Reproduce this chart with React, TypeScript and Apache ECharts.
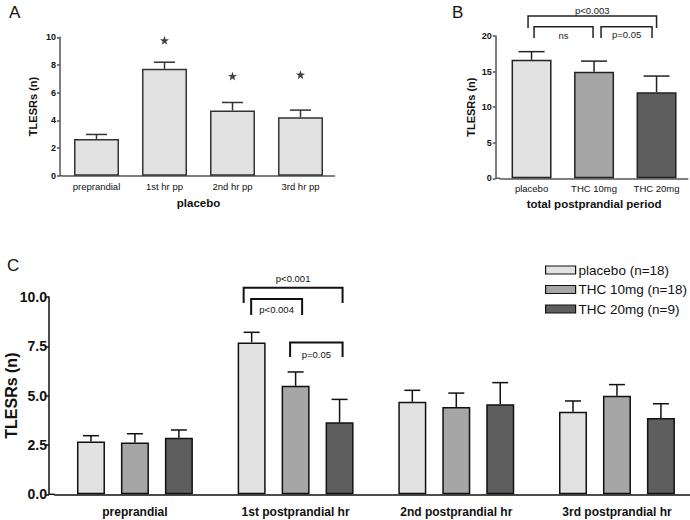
import React, { useEffect, useRef } from 'react';
import * as echarts from 'echarts';

const FONT = '"Liberation Sans", Arial, Helvetica, sans-serif';

// ---------- Panel A (placebo) ----------
const A_CATS = ['preprandial', '1st hr pp', '2nd hr pp', '3rd hr pp'];
const A_MEAN = [2.66, 7.73, 4.71, 4.23];
const A_UPPER = [2.98, 8.2, 5.29, 4.74];
const A_STARS = [[1, 9.78], [2, 7.2], [3, 7.3]];

// ---------- Panel B (total postprandial period) ----------
const B_CATS = ['placebo', 'THC 10mg', 'THC 20mg'];
const B_MEAN = [16.66, 14.98, 12.08];
const B_UPPER = [17.8, 16.47, 14.37];
const B_BRACKET_LABELS = ['p<0.003', 'ns', 'p=0.05'];
const B_BRACKET_FROM = [0, 0, 1];
const B_BRACKET_TO = [2, 1, 2];
const B_BRACKET_TOP = [22.81, 21.31, 21.31];
const B_BRACKET_FOOT = [21.12, 19.72, 19.72];
const B_BRACKET_TEXT_Y = [23.64, 20.1, 20.2];

// ---------- Panel C (per hour, three groups) ----------
const C_CATS = ['preprandial', '1st postprandial hr', '2nd postprandial hr', '3rd postprandial hr'];
const C_GROUPS = ['placebo (n=18)', 'THC 10mg (n=18)', 'THC 20mg (n=9)'];
const C_PLACEBO = [2.67, 7.7, 4.69, 4.19];
const C_PLACEBO_UP = [2.97, 8.21, 5.27, 4.73];
const C_THC10 = [2.63, 5.5, 4.42, 5.0];
const C_THC10_UP = [3.07, 6.2, 5.13, 5.56];
const C_THC20 = [2.87, 3.65, 4.56, 3.87];
const C_THC20_UP = [3.26, 4.81, 5.66, 4.59];
// brackets in panel C (all in the 1st postprandial hr), x given as group index (0..2)
const C_BRACKET_LABELS = ['p<0.001', 'p<0.004', 'p=0.05'];
const C_BRACKET_FROM = [0, 0, 1];
const C_BRACKET_TO = [2, 1, 2];
const C_BRACKET_TOP = [10.47, 9.9, 7.7];
const C_BRACKET_FOOT = [9.7, 9.09, 6.96];
const C_BRACKET_TEXT_Y = [10.96, 9.38, 7.11];

const COLORS = ['#e2e2e2', '#a6a6a6', '#5e5e5e'];

// layout constants (pixels)
const GA = { left: 62.5, top: 37.3, width: 272, height: 138.4, yOff: 2.5 };
const GB = { left: 500.3, top: 36, width: 187.5, height: 142.3, yOff: 4.6 };
const GC = { left: 54.6, top: 297, width: 642.7, height: 197.3, yOff: 5.6 };
const C_BAR_W = 28;
const C_GAP = 0.57;
const C_STEP = C_BAR_W * (1 + C_GAP);

function errorBar(shift: number, capHalf: number, lw: number, color: string) {
  return (params: any, api: any) => {
    const i = api.value(0);
    const base = api.coord([i, api.value(1)]);
    const top = api.coord([i, api.value(2)]);
    const x = base[0] + shift;
    return {
      type: 'group',
      children: [
        { type: 'line', shape: { x1: x, y1: base[1], x2: x, y2: top[1] }, style: { stroke: color, lineWidth: lw } },
        { type: 'line', shape: { x1: x - capHalf, y1: top[1], x2: x + capHalf, y2: top[1] }, style: { stroke: color, lineWidth: lw } },
      ],
    };
  };
}

export default function App() {
  const ref = useRef<HTMLDivElement>(null);
  useEffect(() => {
    if (!ref.current) return;
    const chart = echarts.init(ref.current, null, { renderer: 'svg' });

    const yAxisBase = (gridIndex: number, max: number, interval: number, offset: number, color: string, labelSize: number, fmt: ((v: number) => string) | undefined, name: string, nameGap: number, nameSize: number, tickLen: number, labelMargin: number) => ({
      type: 'value',
      gridIndex,
      min: 0,
      max,
      interval,
      offset,
      name,
      nameLocation: 'middle',
      nameGap,
      nameMoveOverlap: false,
      nameTextStyle: { fontFamily: FONT, fontWeight: 'bold', fontSize: nameSize, color: '#111' },
      axisLine: { show: true, lineStyle: { color, width: 1.5 } },
      axisTick: { show: true, length: tickLen, lineStyle: { color, width: 1.5 } },
      splitLine: { show: false },
      axisLabel: { fontFamily: FONT, fontWeight: 'bold', fontSize: labelSize, color: '#111', margin: labelMargin, formatter: fmt },
    });

    const option: any = {
      animation: false,
      backgroundColor: '#ffffff',
      textStyle: { fontFamily: FONT },
      grid: [
        { left: GA.left, top: GA.top, width: GA.width, height: GA.height, outerBoundsMode: 'none', containLabel: false },
        { left: GB.left, top: GB.top, width: GB.width, height: GB.height, outerBoundsMode: 'none', containLabel: false },
        { left: GC.left, top: GC.top, width: GC.width, height: GC.height, outerBoundsMode: 'none', containLabel: false },
      ],
      xAxis: [
        {
          type: 'category', gridIndex: 0, data: A_CATS, name: 'placebo', nameLocation: 'middle', nameGap: 21, nameMoveOverlap: false,
          nameTextStyle: { fontFamily: FONT, fontWeight: 'bold', fontSize: 11.5, color: '#111' },
          axisLine: { lineStyle: { color: '#555', width: 1.5 } }, axisTick: { show: false },
          axisLabel: { fontFamily: FONT, fontSize: 9.5, color: '#111', margin: 6 },
        },
        {
          type: 'category', gridIndex: 1, data: B_CATS, name: 'total postprandial period', nameLocation: 'middle', nameGap: 20, nameMoveOverlap: false,
          nameTextStyle: { fontFamily: FONT, fontWeight: 'bold', fontSize: 11.5, color: '#111' },
          axisLine: { lineStyle: { color: '#555', width: 1.5 } }, axisTick: { show: false },
          axisLabel: { fontFamily: FONT, fontSize: 9.5, color: '#111', margin: 5 },
        },
        {
          type: 'category', gridIndex: 2, data: C_CATS,
          axisLine: { lineStyle: { color: '#111', width: 1.5 } }, axisTick: { show: false },
          axisLabel: { fontFamily: FONT, fontWeight: 'bold', fontSize: 12, color: '#111', margin: 12 },
        },
      ],
      yAxis: [
        yAxisBase(0, 10, 2, GA.yOff, '#555', 9, undefined, 'TLESRs (n)', 22, 11, 3, 4),
        yAxisBase(1, 20, 5, GB.yOff, '#555', 9, undefined, 'TLESRs (n)', 19, 11, 3, 4),
        yAxisBase(2, 10, 2.5, GC.yOff, '#111', 14, (v: number) => v.toFixed(1), 'TLESRs (n)', 30, 16, 3, 2),
      ],
      legend: {
        data: C_GROUPS,
        orient: 'vertical',
        left: 540,
        top: 258,
        itemWidth: 30,
        itemHeight: 8,
        itemGap: 5.5,
        icon: 'rect',
        itemStyle: { borderColor: '#111', borderWidth: 1.2 },
        textStyle: { fontFamily: FONT, fontSize: 13.5, color: '#111', padding: [0, 0, 0, -2] },
      },
      series: [
        // Panel A
        {
          type: 'bar', xAxisIndex: 0, yAxisIndex: 0, data: A_MEAN, barWidth: 45,
          itemStyle: { color: COLORS[0], borderColor: '#333', borderWidth: 1.5 },
        },
        {
          type: 'custom', xAxisIndex: 0, yAxisIndex: 0,
          data: A_MEAN.map((m, i) => [i, m, A_UPPER[i]]),
          renderItem: errorBar(0, 10.5, 1.5, '#333'),
        },
        {
          type: 'scatter', xAxisIndex: 0, yAxisIndex: 0, data: A_STARS,
          symbol: 'path://M50,0 L61.8,35 L98,35 L68.8,56.6 L79.4,92 L50,70.3 L20.6,92 L31.2,56.6 L2,35 L38.2,35 Z',
          symbolSize: 9, itemStyle: { color: '#111' },
        },
        // Panel B
        {
          type: 'bar', xAxisIndex: 1, yAxisIndex: 1, barWidth: 40,
          data: B_MEAN.map((v, i) => ({ value: v, itemStyle: { color: COLORS[i] } })),
          itemStyle: { borderColor: '#222', borderWidth: 1.5 },
        },
        {
          type: 'custom', xAxisIndex: 1, yAxisIndex: 1,
          data: B_MEAN.map((m, i) => [i, m, B_UPPER[i]]),
          renderItem: errorBar(0, 13, 1.5, '#222'),
        },
        {
          type: 'custom', xAxisIndex: 1, yAxisIndex: 1, clip: false,
          data: B_BRACKET_LABELS.map((l, k) => [B_BRACKET_FROM[k], B_BRACKET_TOP[k]]),
          renderItem: (params: any, api: any) => {
            const k = params.dataIndex;
            const w = api.size([1, 0])[0];
            const ends = [[-0.056, 0], [0.04, -0.016], [0.112, -0.072]][k];
            const pTop = api.coord([B_BRACKET_FROM[k], B_BRACKET_TOP[k]]);
            const x1 = pTop[0] + ends[0] * w;
            const x2 = api.coord([B_BRACKET_TO[k], B_BRACKET_TOP[k]])[0] + ends[1] * w;
            const yFoot = api.coord([0, B_BRACKET_FOOT[k]])[1];
            const yText = api.coord([0, B_BRACKET_TEXT_Y[k]])[1];
            return {
              type: 'group',
              children: [
                { type: 'polyline', shape: { points: [[x1, yFoot], [x1, pTop[1]], [x2, pTop[1]], [x2, yFoot]] }, style: { stroke: '#222', lineWidth: 1.5, fill: 'none' } },
                { type: 'text', x: (x1 + x2) / 2, y: yText, style: { text: B_BRACKET_LABELS[k], fontFamily: FONT, fontSize: 9.5, fill: '#222', align: 'center', verticalAlign: 'middle' } },
              ],
            };
          },
        },
        // Panel C
        ...[C_PLACEBO, C_THC10, C_THC20].map((d, s) => ({
          type: 'bar', name: C_GROUPS[s], xAxisIndex: 2, yAxisIndex: 2, data: d,
          barWidth: C_BAR_W, barGap: `${C_GAP * 100}%`,
          itemStyle: { color: COLORS[s], borderColor: '#111', borderWidth: 1.5 },
        })),
        ...[[C_PLACEBO, C_PLACEBO_UP], [C_THC10, C_THC10_UP], [C_THC20, C_THC20_UP]].map(([m, u], s) => ({
          type: 'custom', xAxisIndex: 2, yAxisIndex: 2,
          data: m.map((v, i) => [i, v, u[i]]),
          renderItem: errorBar((s - 1) * C_STEP, 8, 1.5, '#111'),
        })),
        {
          type: 'custom', xAxisIndex: 2, yAxisIndex: 2, clip: false,
          data: C_BRACKET_LABELS.map((l, k) => [1, C_BRACKET_TOP[k]]),
          renderItem: (params: any, api: any) => {
            const k = params.dataIndex;
            const adj = [[-8, 3], [-0.5, 6.5], [-5.5, 3]][k];
            const center = api.coord([1, C_BRACKET_TOP[k]]);
            const x1 = center[0] + (C_BRACKET_FROM[k] - 1) * C_STEP + adj[0];
            const x2 = center[0] + (C_BRACKET_TO[k] - 1) * C_STEP + adj[1];
            const yFoot = api.coord([1, C_BRACKET_FOOT[k]])[1];
            const yText = api.coord([1, C_BRACKET_TEXT_Y[k]])[1];
            return {
              type: 'group',
              children: [
                { type: 'polyline', shape: { points: [[x1, yFoot], [x1, center[1]], [x2, center[1]], [x2, yFoot]] }, style: { stroke: '#111', lineWidth: 2, fill: 'none' } },
                { type: 'text', x: (x1 + x2) / 2, y: yText, style: { text: C_BRACKET_LABELS[k], fontFamily: FONT, fontSize: 9.5, fill: '#111', align: 'center', verticalAlign: 'middle' } },
              ],
            };
          },
        },
      ],
      graphic: [
        { type: 'text', left: 9, top: 4, style: { text: 'A', fontFamily: FONT, fontSize: 17, fill: '#111' } },
        { type: 'text', left: 452, top: 4, style: { text: 'B', fontFamily: FONT, fontSize: 17, fill: '#111' } },
        { type: 'text', left: 7, top: 257, style: { text: 'C', fontFamily: FONT, fontSize: 17, fill: '#111' } },
        { type: 'line', shape: { x1: GA.left - GA.yOff, y1: GA.top + GA.height, x2: GA.left, y2: GA.top + GA.height }, style: { stroke: '#555', lineWidth: 1.5 } },
        { type: 'line', shape: { x1: GB.left - GB.yOff, y1: GB.top + GB.height, x2: GB.left, y2: GB.top + GB.height }, style: { stroke: '#555', lineWidth: 1.5 } },
        { type: 'line', shape: { x1: GC.left - GC.yOff, y1: GC.top + GC.height, x2: GC.left, y2: GC.top + GC.height }, style: { stroke: '#111', lineWidth: 1.5 } },
      ],
    };
    chart.setOption(option);
    return () => chart.dispose();
  }, []);
  return <div ref={ref} style={{ position: 'absolute', left: 0, top: 0, width: 690, height: 520 }} />;
}
